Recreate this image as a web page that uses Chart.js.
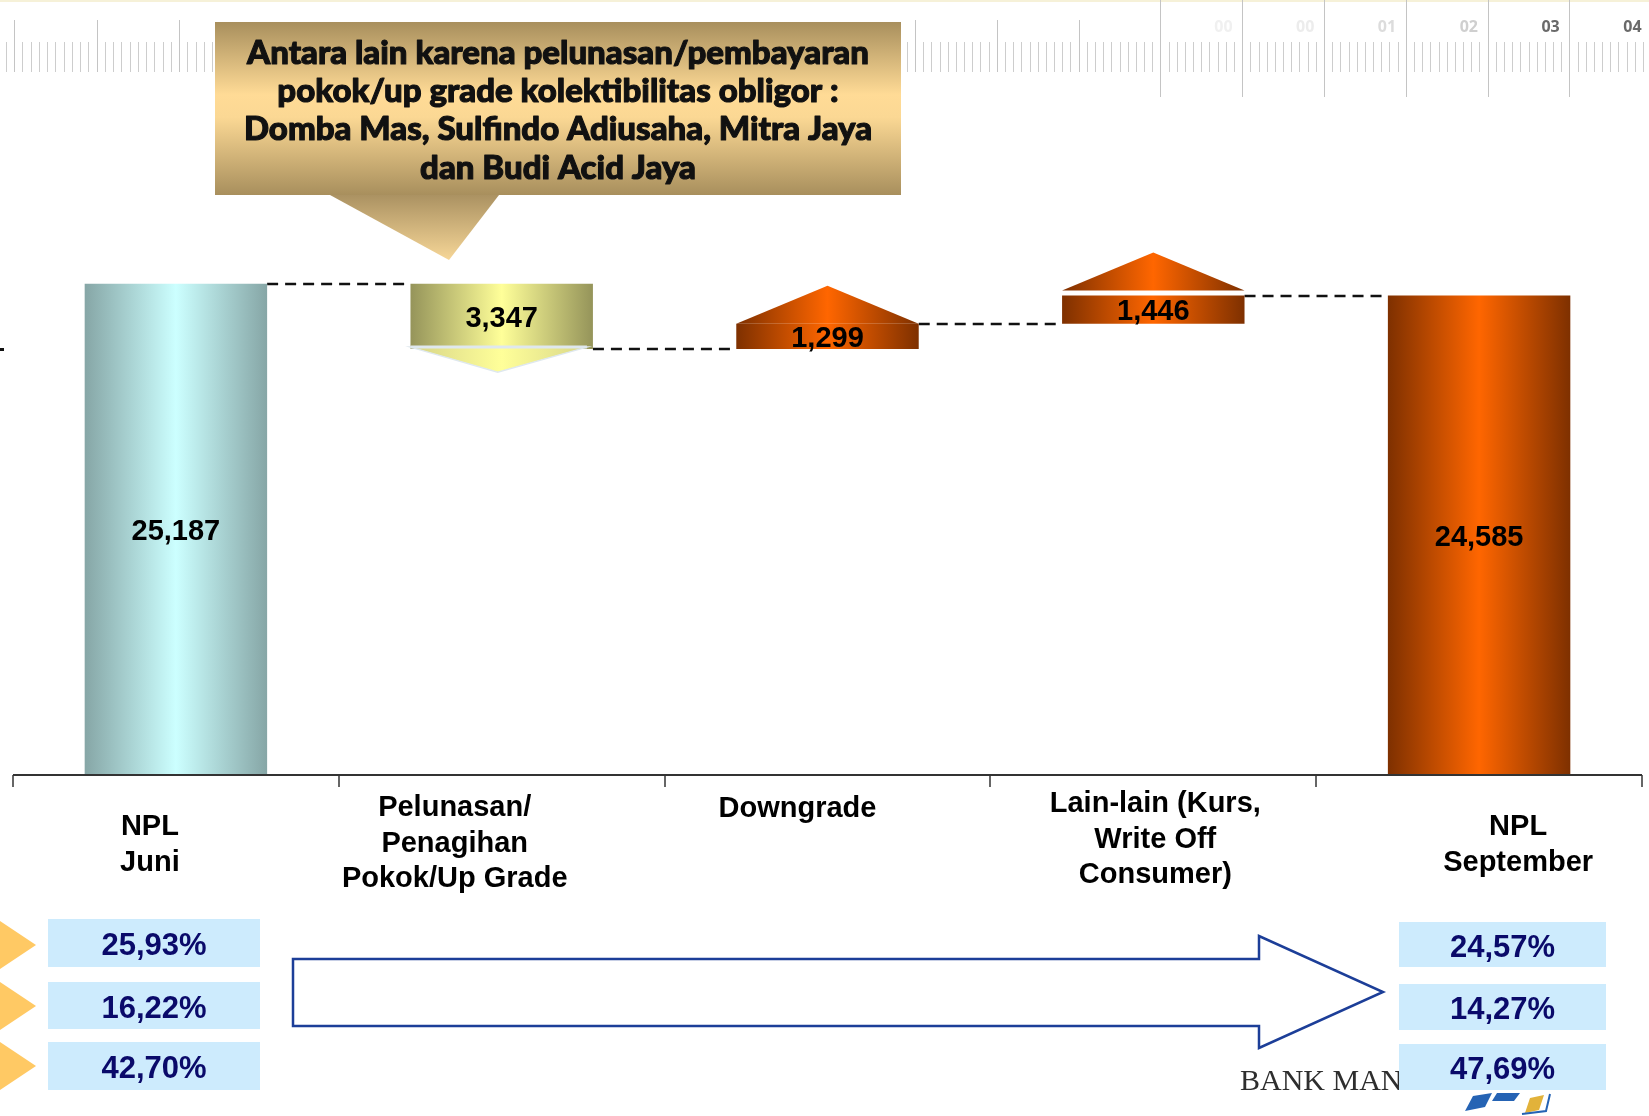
<!DOCTYPE html>
<html><head><meta charset="utf-8">
<script src="https://cdn.jsdelivr.net/npm/chart.js@4.4.1/dist/chart.umd.min.js"></script>
<style>html,body{margin:0;padding:0;background:#fff;overflow:hidden}canvas{display:block}</style>
</head><body>
<canvas id="c" width="1649" height="1116"></canvas>
<script>
// ---------- data ----------
const categories = [['NPL', 'Juni'], ['Pelunasan/', 'Penagihan', 'Pokok/Up Grade'], ['Downgrade'], ['Lain-lain (Kurs,', 'Write Off', 'Consumer)'], ['NPL', 'September']];
const nplValues = [25187, -3347, 1299, 1446, 24585];
const barKinds = ['total', 'change', 'change', 'change', 'total'];
const ratioJuni = ['25,93%', '16,22%', '42,70%'];
const ratioSeptember = ['24,57%', '14,27%', '47,69%'];
const calloutLines = ['Antara lain karena pelunasan/pembayaran', 'pokok/up grade kolektibilitas obligor :', 'Domba Mas, Sulfindo Adiusaha, Mitra Jaya', 'dan Budi Acid Jaya'];
const rulerLabels = ['00', '00', '01', '02', '03', '04'];
const logoText = 'BANK MANDIRI';

// waterfall table built from the values
const floating = [];
const levels = [];
let running = 0;
nplValues.forEach((v, i) => {
  if (barKinds[i] === 'total') { floating.push([0, v]); running = v; }
  else { floating.push([running, running + v].sort((a, b) => a - b)); running += v; }
  levels.push(running);
});

// ---------- styles ----------
const barPalettes = [['#86a6a6', '#ccffff'], ['#95945a', '#ffff99'], ['#7e3000', '#ff6600'], ['#7e3000', '#ff6600'], ['#7e3000', '#ff6600']];
const arrowKinds = [null, 'down', 'upTight', 'upGap', null];
const labelDx = [-26, -47, -30, 2, 39];
const labelTop = [50, 31, 32, 27, 50];
const BAR_PCT = 0.56;
const SANS = '"Liberation Sans", Arial, sans-serif';

function hGrad(ctx, x0, x1, edge, mid) {
  const g = ctx.createLinearGradient(x0, 0, x1, 0);
  g.addColorStop(0, edge); g.addColorStop(0.5, mid); g.addColorStop(1, edge);
  return g;
}
function capText(ctx, txt, x, cy, size) {
  ctx.fillText(txt, x, cy + size * 0.358);
}

function drawRuler(ctx) {
  ctx.save();
  ctx.fillStyle = '#f6f1d8'; ctx.fillRect(0, 0, 1649, 2);
  ctx.lineWidth = 1;
  for (let k = -1; k * 8.25 + 14 <= 212; k++) {
    const x = Math.round(14 + k * 8.25) + 0.5;
    const major = ((k % 10) + 10) % 10 === 0;
    ctx.strokeStyle = major ? '#c4c4c4' : '#cdcdcd';
    ctx.beginPath(); ctx.moveTo(x, major ? 20 : 42); ctx.lineTo(x, 72); ctx.stroke();
  }
  for (let k = -1; 915 + k * 8.18 <= 1649; k++) {
    const x = Math.round(915 + k * 8.18) + 0.5;
    const major = ((k % 10) + 10) % 10 === 0;
    const idx = Math.floor(k / 10);
    ctx.strokeStyle = major ? '#c4c4c4' : '#cdcdcd';
    ctx.beginPath();
    if (major && idx >= 3) { ctx.moveTo(x, 0); ctx.lineTo(x, 97); }
    else { ctx.moveTo(x, major ? 20 : 42); ctx.lineTo(x, 72); }
    ctx.stroke();
  }
  const rc = ['#f0f0f0', '#ececec', '#dcdcdc', '#cfcfcf', '#6a6a6a', '#6a6a6a'];
  ctx.font = 'bold 16px "Open Sans", sans-serif';
  ctx.textAlign = 'center';
  rulerLabels.forEach((t, i) => {
    ctx.fillStyle = rc[i];
    ctx.fillText(t, 915 + (i + 3) * 81.8 + 63, 32);
  });
  ctx.restore();
}

function drawCallout(ctx) {
  const L = 215, R = 901, T = 22, B = 195;
  ctx.save();
  const g = ctx.createLinearGradient(0, T, 0, B);
  g.addColorStop(0, '#a88f5d'); g.addColorStop(0.42, '#ffdb96'); g.addColorStop(0.55, '#fbd894'); g.addColorStop(1, '#a88f5d');
  ctx.fillStyle = g; ctx.fillRect(L, T, R - L, B - T);
  const pg = ctx.createLinearGradient(0, B, 0, 260);
  pg.addColorStop(0, '#ab9262'); pg.addColorStop(1, '#f6d697');
  ctx.fillStyle = pg;
  ctx.beginPath(); ctx.moveTo(330, B); ctx.lineTo(499, B); ctx.lineTo(449, 260); ctx.closePath(); ctx.fill();
  ctx.font = '900 30px Lato, sans-serif';
  const w = ctx.measureText(calloutLines[2]).width;
  let size = Math.max(24, Math.min(34, 30 * 628 / w));
  ctx.font = '900 ' + size.toFixed(1) + 'px Lato, sans-serif';
  ctx.fillStyle = '#111';
  ctx.strokeStyle = '#111';
  ctx.lineWidth = 1.1;
  ctx.lineJoin = 'round';
  ctx.textAlign = 'center';
  const ys = [52, 90, 128, 167];
  calloutLines.forEach((t, i) => {
    const by = ys[i] + size * 0.36;
    ctx.fillText(t, 558, by);
    ctx.strokeText(t, 558, by);
  });
  ctx.restore();
}

function drawBottom(ctx) {
  ctx.save();
  ctx.fillStyle = '#ffc964';
  [945, 1006, 1066].forEach(cy => {
    ctx.beginPath(); ctx.moveTo(0, cy - 24); ctx.lineTo(36, cy); ctx.lineTo(0, cy + 24); ctx.closePath(); ctx.fill();
  });
  ctx.fillStyle = '#ffffff';
  ctx.strokeStyle = '#1c3e98';
  ctx.lineWidth = 2.5;
  ctx.beginPath();
  ctx.moveTo(293, 959); ctx.lineTo(1259, 959); ctx.lineTo(1259, 936); ctx.lineTo(1383, 992);
  ctx.lineTo(1259, 1048); ctx.lineTo(1259, 1026); ctx.lineTo(293, 1026); ctx.closePath();
  ctx.fill(); ctx.stroke();
  ctx.font = '30px "Liberation Serif", serif';
  ctx.fillStyle = '#2e2e2e'; ctx.textAlign = 'left';
  ctx.fillText(logoText, 1240, 1090);
  ctx.fillStyle = '#2563b4';
  ctx.beginPath(); ctx.moveTo(1465, 1111); ctx.lineTo(1473, 1096); ctx.lineTo(1492, 1093); ctx.lineTo(1485, 1107); ctx.closePath(); ctx.fill();
  ctx.beginPath(); ctx.moveTo(1492, 1101); ctx.lineTo(1497, 1093); ctx.lineTo(1520, 1093); ctx.lineTo(1514, 1101); ctx.closePath(); ctx.fill();
  ctx.fillStyle = '#e2b23a';
  ctx.beginPath(); ctx.moveTo(1525, 1113); ctx.lineTo(1530, 1098); ctx.lineTo(1544, 1095); ctx.lineTo(1539, 1110); ctx.closePath(); ctx.fill();
  ctx.strokeStyle = '#2563b4'; ctx.lineWidth = 2;
  ctx.beginPath(); ctx.moveTo(1522, 1114); ctx.lineTo(1546, 1111); ctx.lineTo(1550, 1094); ctx.stroke();
  const boxes = [
    { x: 48, w: 212, rows: [[919, 967], [982, 1029], [1042, 1090]], texts: ratioJuni },
    { x: 1399, w: 207, rows: [[922, 967], [984, 1030], [1044, 1090]], texts: ratioSeptember }
  ];
  ctx.font = 'bold 31px ' + SANS; ctx.textAlign = 'center';
  boxes.forEach(b => {
    b.rows.forEach((r, i) => {
      ctx.fillStyle = '#cdebfd';
      ctx.fillRect(b.x, r[0], b.w, r[1] - r[0]);
      ctx.fillStyle = '#0a0a6a';
      capText(ctx, b.texts[i], b.x + b.w / 2, (r[0] + r[1]) / 2 + 1, 31);
    });
  });
  ctx.fillStyle = '#111'; ctx.fillRect(0, 348, 4, 3);
  ctx.restore();
}

const waterfallPlugin = {
  id: 'waterfall',
  beforeDraw(chart) {
    const ctx = chart.ctx;
    ctx.save(); ctx.fillStyle = '#fff'; ctx.fillRect(0, 0, chart.width, chart.height); ctx.restore();
    drawRuler(ctx);
  },
  beforeDatasetsDraw(chart) {
    const ctx = chart.ctx, y = chart.scales.y;
    const bars = chart.getDatasetMeta(0).data;
    ctx.save();
    ctx.strokeStyle = '#111'; ctx.lineWidth = 2.5; ctx.setLineDash([11, 7]);
    for (let i = 0; i < bars.length - 1; i++) {
      const py = Math.round(y.getPixelForValue(levels[i]));
      ctx.beginPath();
      ctx.moveTo(bars[i].x + bars[i].width / 2, py);
      ctx.lineTo(bars[i + 1].x - bars[i + 1].width / 2, py);
      ctx.stroke();
    }
    ctx.restore();
  },
  afterDatasetsDraw(chart) {
    const ctx = chart.ctx, area = chart.chartArea, xs = chart.scales.x;
    const bars = chart.getDatasetMeta(0).data;
    ctx.save();
    bars.forEach((b, i) => {
      const kind = arrowKinds[i];
      if (!kind) return;
      const l = b.x - b.width / 2, r = b.x + b.width / 2;
      const top = Math.min(b.y, b.base), bot = Math.max(b.y, b.base);
      const pal = barPalettes[i];
      ctx.beginPath();
      if (kind === 'down') {
        ctx.fillStyle = hGrad(ctx, l, r, '#d6d488', '#ffff99');
        ctx.moveTo(l, bot - 2); ctx.lineTo(r - 6, bot - 2); ctx.lineTo(b.x - 4, bot + 23); ctx.closePath();
        ctx.fill();
        ctx.strokeStyle = '#dfe8ee'; ctx.lineWidth = 1.5; ctx.stroke();
        ctx.beginPath(); ctx.moveTo(l, bot - 2); ctx.lineTo(r - 6, bot - 2); ctx.lineWidth = 3; ctx.stroke();
      } else {
        const base = kind === 'upGap' ? top - 5 : top;
        ctx.fillStyle = hGrad(ctx, l, r, pal[0], pal[1]);
        ctx.moveTo(l, base); ctx.lineTo(r, base); ctx.lineTo(b.x, base - 38); ctx.closePath();
        ctx.fill();
      }
    });
    ctx.fillStyle = '#000'; ctx.textAlign = 'center';
    ctx.font = 'bold 29px ' + SANS;
    bars.forEach((b, i) => {
      const mid = (b.y + b.base) / 2;
      capText(ctx, Math.abs(nplValues[i]).toLocaleString('en-US'), b.x, mid, 29);
    });
    ctx.strokeStyle = '#333'; ctx.lineWidth = 2;
    ctx.beginPath(); ctx.moveTo(area.left, area.bottom); ctx.lineTo(area.right, area.bottom); ctx.stroke();
    const cw = (area.right - area.left) / categories.length;
    ctx.lineWidth = 1.5;
    for (let k = 0; k <= categories.length; k++) {
      const x = Math.round(area.left + k * cw);
      ctx.beginPath(); ctx.moveTo(x, area.bottom); ctx.lineTo(x, area.bottom + 12); ctx.stroke();
    }
    ctx.fillStyle = '#000';
    ctx.font = 'bold 29px ' + SANS;
    categories.forEach((lines, i) => {
      const cx = xs.getPixelForValue(i) + labelDx[i];
      lines.forEach((t, j) => capText(ctx, t, cx, area.bottom + labelTop[i] + j * 35.5, 29));
    });
    ctx.restore();
    drawBottom(ctx);
    drawCallout(ctx);
  }
};

new Chart(document.getElementById('c'), {
  type: 'bar',
  data: {
    labels: categories,
    datasets: [{
      data: floating,
      borderWidth: 0,
      barPercentage: BAR_PCT,
      categoryPercentage: 1,
      backgroundColor: (c) => {
        const pal = barPalettes[c.dataIndex] || barPalettes[0];
        const ch = c.chart, xs = ch.scales && ch.scales.x;
        if (!xs || !ch.chartArea) return pal[1];
        const cx = xs.getPixelForValue(c.dataIndex);
        const w = (xs.width / categories.length) * BAR_PCT;
        return hGrad(ch.ctx, cx - w / 2, cx + w / 2, pal[0], pal[1]);
      }
    }]
  },
  options: {
    responsive: false,
    devicePixelRatio: 1,
    animation: false,
    layout: { padding: { left: 13, right: 7, top: 190, bottom: 341 } },
    plugins: { legend: { display: false }, tooltip: { enabled: false } },
    scales: {
      x: { display: false, offset: true },
      y: { display: false, min: 0, max: 30000 }
    }
  },
  plugins: [waterfallPlugin]
});
</script>
</body></html>
